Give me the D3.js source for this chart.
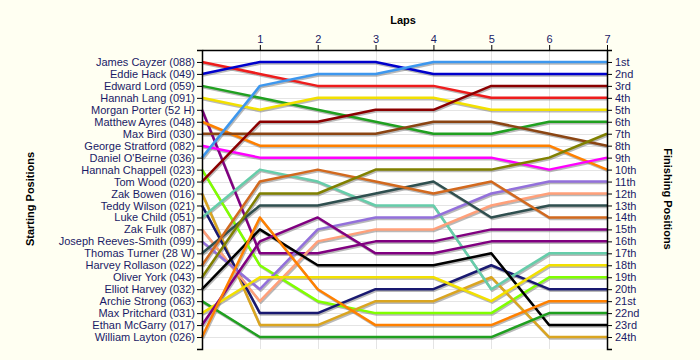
<!DOCTYPE html>
<html>
<head>
<meta charset="utf-8">
<script src="https://cdn.jsdelivr.net/npm/d3@7/dist/d3.min.js"></script>
<style>
  html, body { margin: 0; padding: 0; background: #fffff2; }
  svg { display: block; }
  text { font-family: "Liberation Sans", Arial, sans-serif; }
</style>
</head>
<body>
<svg id="chart" width="700" height="360"></svg>
<script>
// ---------- data ----------
const drivers = [
  "James Cayzer (088)", "Eddie Hack (049)", "Edward Lord (059)", "Hannah Lang (091)",
  "Morgan Porter (52 H)", "Matthew Ayres (048)", "Max Bird (030)", "George Stratford (082)",
  "Daniel O'Beirne (036)", "Hannah Chappell (023)", "Tom Wood (020)", "Zak Bowen (016)",
  "Teddy Wilson (021)", "Luke Child (051)", "Zak Fulk (087)", "Joseph Reeves-Smith (099)",
  "Thomas Turner (28 W)", "Harvey Rollason (022)", "Oliver York (043)", "Elliot Harvey (032)",
  "Archie Strong (063)", "Max Pritchard (031)", "Ethan McGarry (017)", "William Layton (026)"
];
const laps = [0, 1, 2, 3, 4, 5, 6, 7];
const lapTickLabels = ["1", "2", "3", "4", "5", "6", "7"];
const finishLabels = ["1st","2nd","3rd","4th","5th","6th","7th","8th","9th","10th","11th","12th",
  "13th","14th","15th","16th","17th","18th","19th","20th","21st","22nd","23rd","24th"];
// position of each driver at lap 0..7
const positions = [
  [1, 2, 3, 3, 3, 4, 4, 4],
  [2, 1, 1, 1, 2, 2, 2, 2],
  [3, 4, 5, 6, 7, 7, 6, 6],
  [4, 5, 4, 4, 4, 5, 5, 5],
  [5, 17, 17, 16, 16, 15, 15, 15],
  [6, 8, 8, 8, 8, 8, 8, 10],
  [7, 7, 7, 7, 6, 6, 7, 8],
  [8, 9, 9, 9, 9, 9, 10, 9],
  [9, 3, 2, 2, 1, 1, 1, 1],
  [10, 18, 21, 22, 22, 22, 19, 19],
  [11, 6, 6, 5, 5, 3, 3, 3],
  [12, 23, 23, 21, 21, 19, 24, 24],
  [13, 22, 22, 20, 20, 18, 20, 20],
  [14, 10, 11, 13, 13, 20, 17, 17],
  [15, 21, 16, 15, 15, 13, 12, 12],
  [16, 20, 15, 14, 14, 12, 11, 11],
  [17, 13, 13, 12, 11, 14, 13, 13],
  [18, 11, 10, 11, 12, 11, 14, 14],
  [19, 12, 12, 10, 10, 10, 9, 7],
  [20, 15, 18, 18, 18, 17, 23, 23],
  [21, 24, 24, 24, 24, 24, 22, 22],
  [22, 19, 19, 19, 19, 21, 18, 18],
  [23, 16, 14, 17, 17, 16, 16, 16],
  [24, 14, 20, 23, 23, 23, 21, 21]
];
const colors = [
  "#ee1c1c", "#0000cc", "#20a020", "#f2e000", "#800080", "#ff8000", "#8b4513", "#ff00ff",
  "#3d97ee", "#80ff00", "#8b0000", "#daa520", "#191970", "#66cdaa", "#ffa07a", "#9370db",
  "#2f4f4f", "#d2691e", "#808000", "#000000", "#20a020", "#f2e000", "#800080", "#ff8000"
];

// ---------- layout ----------
const svg = d3.select("#chart");
const W = 700, H = 360;
const plot = { left: 202, right: 607, top: 50, bottom: 349 };
const labelColor = "#1a1a66";

svg.append("rect").attr("width", W).attr("height", H).attr("fill", "#fffff2");
svg.append("rect")
  .attr("x", plot.left).attr("y", plot.top)
  .attr("width", plot.right - plot.left).attr("height", plot.bottom - plot.top)
  .attr("fill", "#ffffff");

const x = d3.scaleLinear().domain([0, 7]).range([plot.left, plot.right]);
const y = d3.scaleLinear().domain([0, 25]).range([plot.top, plot.bottom]);

// gridlines
const posTicks = d3.range(1, 25);
svg.append("g").selectAll("line").data(posTicks).join("line")
  .attr("x1", plot.left).attr("x2", plot.right)
  .attr("y1", d => Math.round(y(d)) + 0.5).attr("y2", d => Math.round(y(d)) + 0.5)
  .attr("stroke", "#e4e4e4").attr("stroke-width", 1);
svg.append("g").selectAll("line").data(d3.range(1, 7)).join("line")
  .attr("x1", d => Math.round(x(d)) + 0.5).attr("x2", d => Math.round(x(d)) + 0.5)
  .attr("y1", plot.top).attr("y2", plot.bottom)
  .attr("stroke", "#e4e4e4").attr("stroke-width", 1);

// lines
const line = d3.line().x((d, i) => x(laps[i])).y(d => y(d));
const shadows = svg.append("g").attr("transform", "translate(1,1.5)");
shadows.selectAll("path").data(positions).join("path")
  .attr("d", line).attr("fill", "none")
  .attr("stroke", "#808080").attr("stroke-opacity", 0.55)
  .attr("stroke-width", 2.5).attr("stroke-linejoin", "round");
const series = svg.append("g");
series.selectAll("path").data(positions).join("path")
  .attr("d", line).attr("fill", "none")
  .attr("stroke", (d, i) => colors[i])
  .attr("stroke-width", 2.5).attr("stroke-linejoin", "round");

// axes
const leftAxis = d3.axisLeft(y).tickValues(posTicks)
  .tickFormat(d => drivers[d - 1]).tickSize(5).tickSizeOuter(5).tickPadding(2);
const gL = svg.append("g").attr("transform", `translate(${plot.left},0)`).call(leftAxis);

const rightAxis = d3.axisRight(y).tickValues(posTicks)
  .tickFormat(d => finishLabels[d - 1]).tickSize(5).tickSizeOuter(5).tickPadding(3);
const gR = svg.append("g").attr("transform", `translate(${plot.right},0)`).call(rightAxis);

const topAxis = d3.axisTop(x).tickValues(d3.range(1, 8))
  .tickFormat(d => lapTickLabels[d - 1]).tickSize(5).tickSizeOuter(0).tickPadding(2);
const gT = svg.append("g").attr("transform", `translate(0,${plot.top})`).call(topAxis);

[gL, gR, gT].forEach(g => {
  g.selectAll(".domain").attr("stroke", "#000").attr("stroke-width", 1.5);
  g.selectAll(".tick line").attr("stroke", "#000");
  g.selectAll("text").attr("fill", labelColor)
    .style("font-family", "'Liberation Sans', Arial, sans-serif").style("font-size", "11px");
});

// titles
svg.append("text").attr("x", 403).attr("y", 24).attr("text-anchor", "middle")
  .style("font-weight", "bold").style("font-size", "11px").attr("fill", "#000").text("Laps");
svg.append("text").attr("transform", "translate(34,199) rotate(-90)").attr("text-anchor", "middle")
  .style("font-weight", "bold").style("font-size", "11px").attr("fill", "#000").text("Starting Positions");
svg.append("text").attr("transform", "translate(664,199) rotate(90)").attr("text-anchor", "middle")
  .style("font-weight", "bold").style("font-size", "11px").attr("fill", "#000").text("Finishing Positions");
</script>
</body>
</html>
